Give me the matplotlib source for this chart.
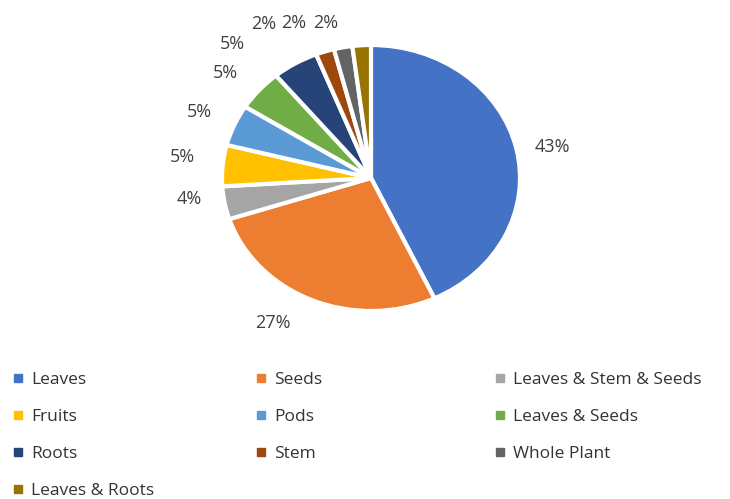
import matplotlib
matplotlib.use("Agg")
import matplotlib.pyplot as plt
from matplotlib.lines import Line2D

plt.rcParams['font.family'] = ['Open Sans', 'DejaVu Sans']

parts = ['Leaves', 'Seeds', 'Leaves & Stem & Seeds', 'Fruits', 'Pods',
         'Leaves & Seeds', 'Roots', 'Stem', 'Whole Plant', 'Leaves & Roots']
share = [43, 27, 4, 5, 5, 5, 5, 2, 2, 2]
colors = ['#4472C4', '#ED7D31', '#A5A5A5', '#FFC000', '#5B9BD5',
          '#70AD47', '#264478', '#9E480E', '#636363', '#997300']
# small label shifts so the crowded labels don't collide (like Excel does)
nudge = [(0.03, -0.03), (-0.175, 0.03), (-0.02, 0.07), (-0.05, 0.04), (-0.03, 0.01),
         (-0.06, -0.02), (-0.31, -0.04), (-0.34, 0), (-0.29, -0.03), (-0.23, -0.05)]

fig = plt.figure(figsize=(7.30, 4.99), dpi=100)
# pie area (reference is slightly stretched horizontally)
ax = fig.add_axes([222 / 730, (499 - 311) / 499, 298 / 730, 266 / 499])
wedges, texts = ax.pie(share, colors=colors, startangle=90, counterclock=False,
                       labels=[f'{v}%' for v in share], labeldistance=1.22,
                       wedgeprops=dict(edgecolor='white', linewidth=3),
                       textprops=dict(fontsize=13, color='#404040'))
for t, (dx, dy) in zip(texts, nudge):
    x, y = t.get_position()
    t.set_position((x + dx, y + dy))
    t.set_ha('center')
    t.set_va('center')
ax.set_aspect('auto')
ax.set_xlim(-1, 1)
ax.set_ylim(-1, 1)
ax.axis('off')

# legend: three columns placed by hand
cols = [[0, 3, 6, 9], [1, 4, 7], [2, 5, 8]]
xs = [5, 248, 487]
for col, x in zip(cols, xs):
    handles = [Line2D([], [], marker='s', linestyle='', markersize=6,
                      color=colors[i]) for i in col]
    fig.legend(handles, [parts[i] for i in col], loc='upper left',
               bbox_to_anchor=(x / 730, 1 - 365 / 499), frameon=False,
               fontsize=12.5, labelspacing=1.2, handletextpad=0.4,
               handlelength=0.7, labelcolor='#333333', borderaxespad=0)

fig.savefig('out.png', dpi=100, facecolor='white')
